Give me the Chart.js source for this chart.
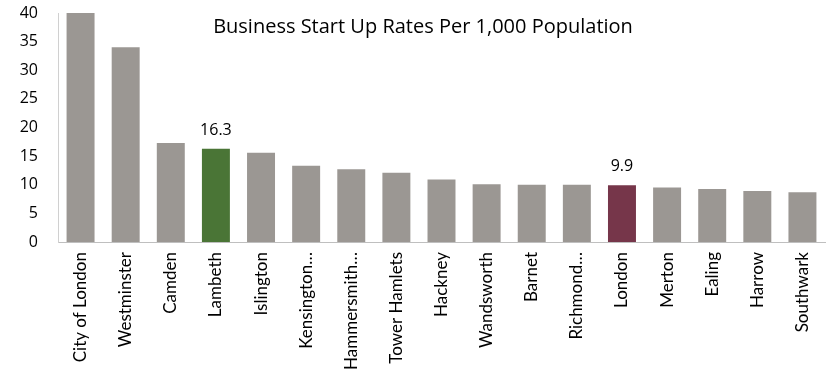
<!DOCTYPE html>
<html>
<head>
<meta charset="utf-8">
<script src="https://cdn.jsdelivr.net/npm/chart.js@4/dist/chart.umd.min.js"></script>
<style>
  html, body { margin: 0; padding: 0; background: #fff; }
  #wrap { width: 827px; height: 370px; }
</style>
</head>
<body>
<div id="wrap"><canvas id="startups"></canvas></div>
<script>
// business start-ups per 1,000 population, by borough
const boroughs = ['City of London', 'Westminster', 'Camden', 'Lambeth', 'Islington', 'Kensington…',
  'Hammersmith…', 'Tower Hamlets', 'Hackney', 'Wandsworth', 'Barnet', 'Richmond…', 'London',
  'Merton', 'Ealing', 'Harrow', 'Southwark'];
const rates = [40, 34.0, 17.3, 16.3, 15.6, 13.3, 12.7, 12.1, 10.9, 10.1, 10.0, 10.0, 9.9, 9.5, 9.25, 8.9, 8.7];
const highlighted = { 'Lambeth': '#4a7536', 'London': '#76364a' };
const yTicks = [0, 5, 10, 15, 20, 25, 30, 35, 40];
const chartTitle = 'Business Start Up Rates Per 1,000 Population';

const GREY = '#9b9793';
const FONT = "'Open Sans', sans-serif";
const LABEL_FONT = "Lato, 'Open Sans', sans-serif";

const barColours = boroughs.map(b => highlighted[b] || GREY);

// values printed above the coloured bars, plus the title inside the plot
const annotate = {
  id: 'annotate',
  afterDatasetsDraw(chart) {
    const ctx = chart.ctx;
    const meta = chart.getDatasetMeta(0);
    ctx.save();
    ctx.fillStyle = '#000';
    ctx.font = `16px ${FONT}`;
    ctx.textAlign = 'center';
    ctx.textBaseline = 'alphabetic';
    boroughs.forEach((b, i) => {
      if (!highlighted[b]) return;
      const bar = meta.data[i];
      ctx.fillText(rates[i].toFixed(1), bar.x, bar.y - 14);
    });
    ctx.font = `20px ${FONT}`;
    ctx.textBaseline = 'middle';
    ctx.fillText(chartTitle, 423, 27);
    ctx.restore();
  }
};

new Chart(document.getElementById('startups'), {
  type: 'bar',
  data: {
    labels: boroughs,
    datasets: [{
      data: rates,
      backgroundColor: barColours,
      barPercentage: 0.62,
      categoryPercentage: 1
    }]
  },
  options: {
    responsive: true,
    maintainAspectRatio: false,
    animation: false,
    layout: { padding: { top: 13, right: 2, left: 0, bottom: 0 } },
    plugins: { legend: { display: false }, tooltip: { enabled: false } },
    scales: {
      x: {
        afterFit(scale) {
          scale.height = 128;
          scale.paddingLeft = 0;
          scale.paddingRight = 0;
        },
        grid: { display: false, drawTicks: false },
        border: { display: true, color: '#bfbfbf', width: 1 },
        ticks: {
          color: '#000',
          font: { family: LABEL_FONT, size: 17 },
          minRotation: 90,
          maxRotation: 90,
          autoSkip: false,
          padding: 10
        }
      },
      y: {
        min: 0,
        max: 40,
        afterBuildTicks(scale) { scale.ticks = yTicks.map(v => ({ value: v })); },
        afterFit(scale) {
          scale.width = 58;
          // the label gap should not push the plot down
          scale.paddingTop = 0;
          scale.paddingBottom = 0;
        },
        grid: { display: false, drawTicks: false },
        border: { display: true, color: '#d0d0d0', width: 1 },
        ticks: {
          color: '#000',
          font: { family: FONT, size: 16 },
          padding: 20
        }
      }
    }
  },
  plugins: [annotate]
});
</script>
</body>
</html>
